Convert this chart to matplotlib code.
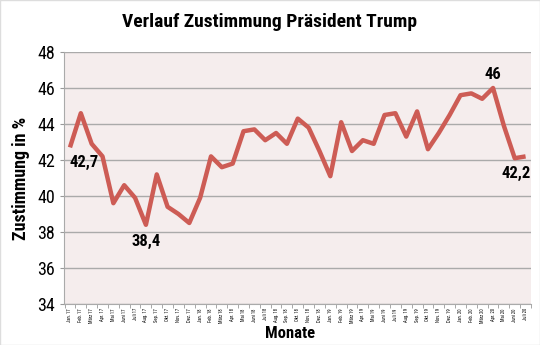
import numpy as np
import matplotlib.pyplot as plt
from matplotlib.patches import Rectangle
from matplotlib import font_manager

# Data
months = ["Jan. 17", "Feb. 17", "März 17", "Apr. 17", "Mai 17", "Juni 17", "Juli 17",
          "Aug. 17", "Sep. 17", "Okt. 17", "Nov. 17", "Dez. 17",
          "Jan. 18", "Feb. 18", "März 18", "Apr. 18", "Mai 18", "Juni 18", "Juli 18",
          "Aug. 18", "Sep. 18", "Okt. 18", "Nov. 18", "Dez. 18",
          "Jan. 19", "Feb. 19", "März 19", "Apr. 19", "Mai 19", "Juni 19", "Juli 19",
          "Aug. 19", "Sep. 19", "Okt. 19", "Nov. 19", "Dez. 19",
          "Jan. 20", "Feb. 20", "März 20", "Apr. 20", "Mai 20", "Juni 20", "Juli 20"]

approval = [42.7, 44.6, 42.9, 42.2, 39.6, 40.6, 39.9, 38.4, 41.2, 39.4, 39.0, 38.5,
            39.9, 42.2, 41.6, 41.8, 43.6, 43.7, 43.1, 43.5, 42.9, 44.3, 43.8, 42.5,
            41.1, 44.1, 42.5, 43.1, 42.9, 44.5, 44.6, 43.3, 44.7, 42.6, 43.5, 44.5,
            45.6, 45.7, 45.4, 46.0, 43.9, 42.1, 42.2]

# labelled points: (index, text, dx, dy in points)
labels = [(0, "42,7", 10, -11), (7, "38,4", 0, -12), (39, "46", 0, 10), (42, "42,2", -7, -12)]

names = {f.name for f in font_manager.fontManager.ttflist}
font = [n for n in ["Roboto Condensed", "Open Sans Condensed", "DejaVu Sans Condensed",
                    "Liberation Sans Narrow", "DejaVu Sans"] if n in names]
line_color = "#cd5c55"
st = "condensed"

fig = plt.figure(figsize=(5.4, 3.45), dpi=100)
ax = fig.add_axes([64 / 540, 1 - 304 / 345, (531 - 64) / 540, (304 - 52) / 345])
ax.set_facecolor("#f5eded")

x = np.arange(len(months))
ax.plot(x, approval, color=line_color, lw=3.2, solid_joinstyle="round",
        solid_capstyle="butt", zorder=3)

for i, txt, dx, dy in labels:
    ax.annotate(txt, (x[i], approval[i]), xytext=(dx, dy), textcoords="offset points",
                ha="center", va="center", fontsize=12, fontweight="bold",
                family=font, stretch=st, zorder=4)

ax.set_ylim(34, 48)
ax.set_yticks(np.arange(34, 49, 2))
ax.set_xlim(-0.55, len(months) - 0.5)
ax.set_xticks(x)
ax.set_xticklabels(months, rotation=90, fontsize=3.3, family=font, stretch=st)
ax.set_xticks(np.arange(-0.5, len(months), 1), minor=True)
ax.tick_params(axis="x", which="major", length=0, pad=3)
ax.tick_params(axis="x", which="minor", length=3, color="#999999")
ax.tick_params(axis="y", length=3, color="#999999", labelsize=13)
for t in ax.get_yticklabels():
    t.set_family(font)
    t.set_stretch(st)

ax.grid(axis="y", color="#aaaaaa", lw=1)
ax.set_axisbelow(True)
for s in ["top", "right"]:
    ax.spines[s].set_visible(False)
for s in ["left", "bottom"]:
    ax.spines[s].set_color("#aaaaaa")

ax.set_ylabel("Zustimmung in %", fontsize=13, fontweight="bold", family=font,
              stretch=st, labelpad=5)
fig.text(290 / 540, 1 - 333 / 345, "Monate", ha="center", va="center", fontsize=12,
         fontweight="bold", family=font, stretch=st)
fig.text(0.5, 1 - 22 / 345, "Verlauf Zustimmung Präsident Trump", ha="center", va="center",
         fontsize=14, fontweight="bold", family=font, stretch=st)

fig.patches.append(Rectangle((0, 0), 1, 1, transform=fig.transFigure, fill=False,
                             edgecolor="#dddddd", lw=1))

fig.savefig("out.png", dpi=100)
